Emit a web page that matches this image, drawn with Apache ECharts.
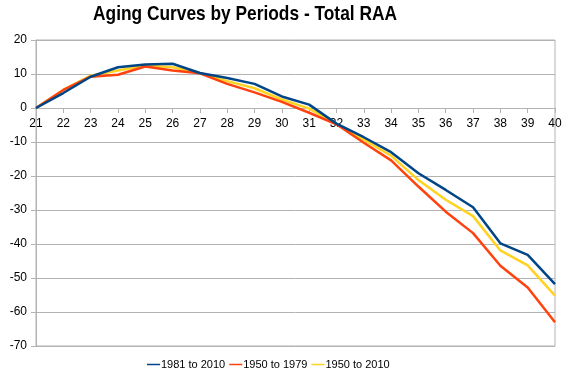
<!DOCTYPE html>
<html>
<head>
<meta charset="utf-8">
<script src="https://cdn.jsdelivr.net/npm/echarts@6/dist/echarts.min.js"></script>
<style>
html,body{margin:0;padding:0;background:#fff;}
#chart{width:570px;height:381px;}
</style>
</head>
<body>
<div id="chart"></div>
<script>
const ages = ['21','22','23','24','25','26','27','28','29','30','31','32','33','34','35','36','37','38','39','40'];
const seriesNames = ['1981 to 2010','1950 to 1979','1950 to 2010'];
const s1981to2010 = [0, 4.4, 9.2, 12.0, 12.8, 13.0, 10.3, 8.8, 7.1, 3.4, 1.0, -4.6, -8.6, -13.0, -19.2, -24.1, -29.2, -39.8, -43.2, -51.8];
const s1950to1979 = [0, 5.3, 9.2, 9.8, 12.2, 11.0, 10.2, 7.1, 4.6, 1.8, -1.4, -4.8, -10.2, -15.4, -23.1, -30.5, -36.8, -46.4, -52.8, -63.0];
const s1950to2010 = [0, 5.3, 9.5, 11.0, 12.5, 12.0, 10.3, 7.9, 5.8, 2.5, -0.2, -4.7, -9.3, -14.0, -21.2, -27.0, -31.8, -41.9, -46.3, -55.2];
const yTicks = {min: -70, max: 20, step: 10};
const titleText = 'Aging Curves by Periods - Total RAA';
const colors = ['#004586', '#ff420e', '#ffd320'];

const chart = echarts.init(document.getElementById('chart'));
const font = 'Liberation Sans, Arial, sans-serif';
const dataSets = [s1981to2010, s1950to1979, s1950to2010];
chart.setOption({
  animation: false,
  color: colors,
  graphic: [{
    type: 'text',
    x: 245,
    y: 4,
    scaleX: 0.825,
    style: {
      text: titleText,
      align: 'center',
      verticalAlign: 'top',
      font: 'bold 21px "Liberation Sans", Arial, sans-serif',
      fill: '#000'
    }
  }],
  legend: {
    top: 354,
    left: 142,
    icon: 'rect',
    itemWidth: 13,
    itemHeight: 1.5,
    itemGap: 4,
    textStyle: {fontFamily: font, fontSize: 11, color: '#000', padding: [0,0,0,-4]},
    data: seriesNames
  },
  grid: {left: 36, right: 15, top: 40, bottom: 35, show: true, borderColor: '#b3b3b3', borderWidth: 1},
  xAxis: {
    type: 'category',
    data: ages,
    boundaryGap: false,
    axisLine: {onZero: false, lineStyle: {color: '#b3b3b3'}},
    axisTick: {show: true, length: 5, lineStyle: {color: '#b3b3b3'}},
    axisLabel: {interval: 0, fontFamily: font, fontSize: 12, color: '#000', margin: 10},
    splitLine: {show: false}
  },
  yAxis: {
    type: 'value',
    min: yTicks.min, max: yTicks.max, interval: yTicks.step,
    axisLine: {show: true, lineStyle: {color: '#b3b3b3'}},
    axisTick: {show: true, length: 5, lineStyle: {color: '#b3b3b3'}},
    axisLabel: {fontFamily: font, fontSize: 12, color: '#000', margin: 9},
    splitLine: {show: true, lineStyle: {color: '#b3b3b3', width: 1}}
  },
  series: seriesNames.map((n, i) => ({
    name: n,
    type: 'line',
    data: dataSets[i],
    symbol: 'none',
    lineStyle: {width: 2.5, color: colors[i]},
    z: 3 - i
  }))
});
// place the category axis on the zero line using the library's own scale
const yZero = chart.convertToPixel({yAxisIndex: 0}, 0);
const yBottom = chart.convertToPixel({yAxisIndex: 0}, yTicks.min);
chart.setOption({xAxis: {offset: -(yBottom - yZero)}});
</script>
</body>
</html>
